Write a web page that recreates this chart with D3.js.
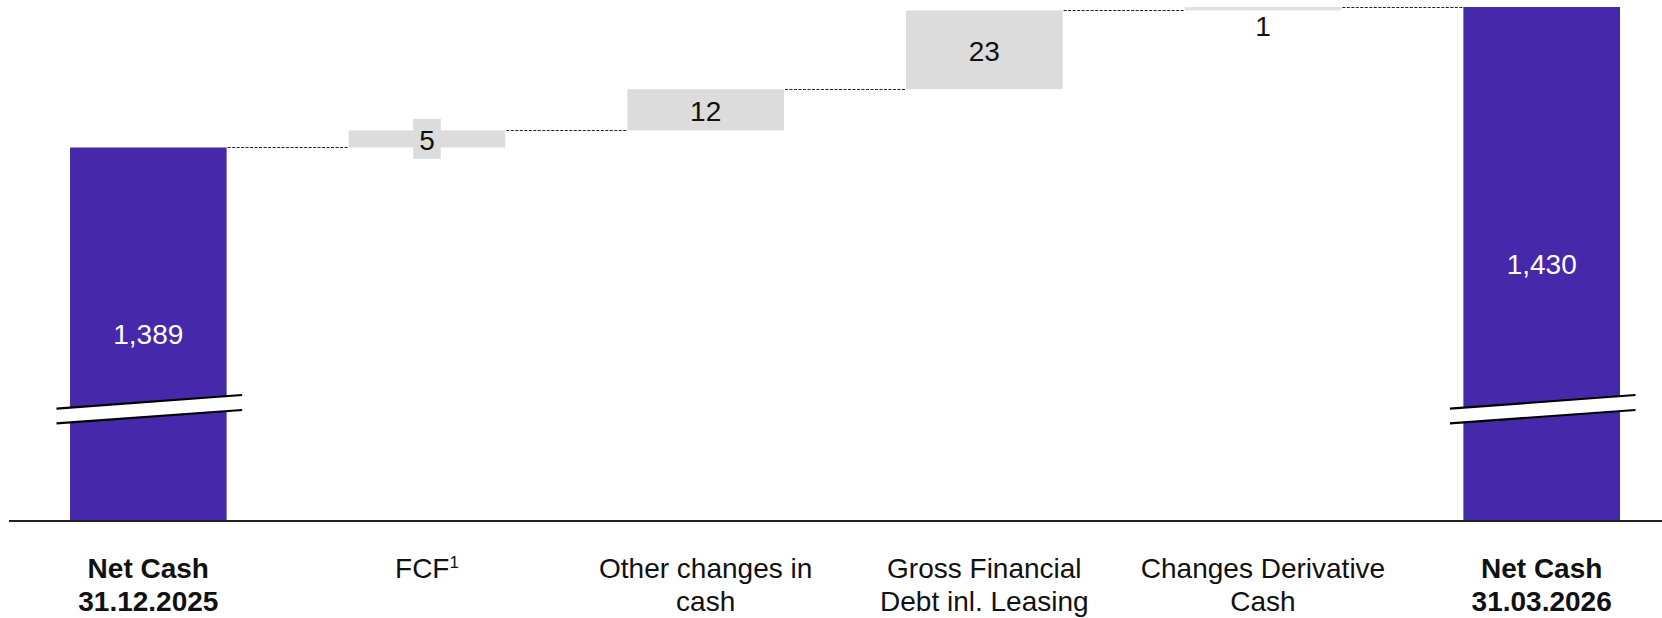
<!DOCTYPE html>
<html>
<head>
<meta charset="utf-8">
<script src="https://cdn.jsdelivr.net/npm/d3@7"></script>
<style>
  html, body { margin: 0; padding: 0; background: #fff; }
  svg { display: block; font-family: "Liberation Sans", Arial, sans-serif; }
</style>
</head>
<body>
<div id="chart"></div>
<script>
// chart values
var categories = ["Net Cash 31.12.2025", "FCF", "Other changes in cash",
                  "Gross Financial Debt inl. Leasing", "Changes Derivative Cash", "Net Cash 31.03.2026"];
var labelLines = [["Net Cash", "31.12.2025"], ["FCF", "1"], ["Other changes in", "cash"],
                  ["Gross Financial", "Debt inl. Leasing"], ["Changes Derivative", "Cash"], ["Net Cash", "31.03.2026"]];
var values = [1389, 5, 12, 23, 1, 1430];
var kinds = ["total", "delta", "delta", "delta", "delta", "total"];
var valueLabels = ["1,389", "5", "12", "23", "1", "1,430"];

var width = 1662, height = 618;
var baseY = 521;
var purple = "#4628aa", grey = "#dcdcdc";

// running totals -> start / end of every bar
var data = [];
var running = 0;
for (var i = 0; i < values.length; i++) {
  if (kinds[i] === "total") {
    data.push({ cat: categories[i], start: null, end: values[i], kind: "total", label: valueLabels[i], lines: labelLines[i] });
    running = values[i];
  } else {
    data.push({ cat: categories[i], start: running, end: running + values[i], kind: "delta", label: valueLabels[i], lines: labelLines[i] });
    running += values[i];
  }
}

var x = d3.scaleBand()
    .domain(categories)
    .range([70, 1620])
    .paddingInner(0.438);

// broken axis: values start at 1280 on the baseline
var y = d3.scaleLinear()
    .domain([1280, 1430])
    .range([baseY, 7]);

var svg = d3.select("#chart").append("svg")
    .attr("width", width)
    .attr("height", height);

// connectors (dotted)
var conn = svg.append("g");
for (var j = 0; j < data.length - 1; j++) {
  var lvl = data[j].end;
  conn.append("line")
      .attr("x1", x(data[j].cat) + x.bandwidth() + 1)
      .attr("x2", x(data[j + 1].cat) - 1)
      .attr("y1", Math.round(y(lvl)) + 0.5)
      .attr("y2", Math.round(y(lvl)) + 0.5)
      .attr("stroke", "#222")
      .attr("stroke-width", 1)
      .attr("stroke-dasharray", "3,1.5");
}

// bars
svg.selectAll("rect.bar")
    .data(data)
    .enter().append("rect")
    .attr("class", "bar")
    .attr("x", function (d) { return x(d.cat); })
    .attr("width", x.bandwidth())
    .attr("y", function (d) { return y(d.end); })
    .attr("height", function (d) {
      return d.kind === "total" ? baseY - y(d.end) : Math.max(1.5, y(d.start) - y(d.end));
    })
    .attr("fill", function (d) { return d.kind === "total" ? purple : (d.end - d.start < 3 ? "#e2e2e2" : grey); });

// axis break marks on the totals
var brk = svg.append("g");
data.filter(function (d) { return d.kind === "total"; }).forEach(function (d) {
  var x0 = x(d.cat) - 13.5, x1 = x(d.cat) + x.bandwidth() + 15.5;
  brk.append("path")
      .attr("d", "M" + x0 + "," + (baseY - 112.3) + "L" + x1 + "," + (baseY - 126) +
                 "L" + x1 + "," + (baseY - 111) + "L" + x0 + "," + (baseY - 97.7) + "Z")
      .attr("fill", "#fff");
  [[-112.3, -126], [-97.7, -111]].forEach(function (p) {
    brk.append("line")
        .attr("x1", x0).attr("y1", baseY + p[0])
        .attr("x2", x1).attr("y2", baseY + p[1])
        .attr("stroke", "#000")
        .attr("stroke-width", 2.2);
  });
});

// value labels
var lab = svg.append("g").attr("font-size", 28);
data.forEach(function (d) {
  var cx = x(d.cat) + x.bandwidth() / 2;
  if (d.kind === "total") {
    lab.append("text")
        .attr("x", cx)
        .attr("y", (y(d.end) + baseY) / 2)
        .attr("text-anchor", "middle")
        .attr("dominant-baseline", "central")
        .attr("fill", "#fff")
        .text(d.label);
    return;
  }
  var top = y(d.end), bot = y(d.start);
  var h = bot - top;
  if (h < 8) {
    // too thin: label below the bar
    lab.append("text")
        .attr("x", cx)
        .attr("y", bot + 16)
        .attr("text-anchor", "middle")
        .attr("dominant-baseline", "central")
        .attr("fill", "#111")
        .text(d.label);
  } else {
    var cy = (top + bot) / 2;
    var g = lab.append("g");
    var t = g.append("text")
        .attr("x", cx)
        .attr("y", cy + 1.5)
        .attr("text-anchor", "middle")
        .attr("dominant-baseline", "central")
        .attr("fill", "#111")
        .text(d.label);
    if (h < 34) {
      var bb = t.node().getBBox();
      g.insert("rect", "text")
          .attr("x", bb.x - 6)
          .attr("y", cy - 20)
          .attr("width", bb.width + 12)
          .attr("height", 40)
          .attr("fill", grey);
    }
  }
});

// baseline
svg.append("line")
    .attr("x1", 9).attr("x2", width)
    .attr("y1", baseY).attr("y2", baseY)
    .attr("stroke", "#222")
    .attr("stroke-width", 2);

// category labels
var line1 = 578, lineGap = 33;
var cl = svg.append("g").attr("font-size", 28).attr("fill", "#111");
data.forEach(function (d) {
  var cx = x(d.cat) + x.bandwidth() / 2;
  var t = cl.append("text")
      .attr("x", cx)
      .attr("y", line1)
      .attr("text-anchor", "middle")
      .attr("font-weight", d.kind === "total" ? "bold" : "normal");
  if (d.cat === "FCF") {
    t.append("tspan").text(d.lines[0]);
    t.append("tspan").attr("font-size", 17).attr("dy", -10).text(d.lines[1]);
  } else {
    d.lines.forEach(function (ln, k) {
      t.append("tspan").attr("x", cx).attr("y", line1 + k * lineGap).text(ln);
    });
  }
});
</script>
</body>
</html>
